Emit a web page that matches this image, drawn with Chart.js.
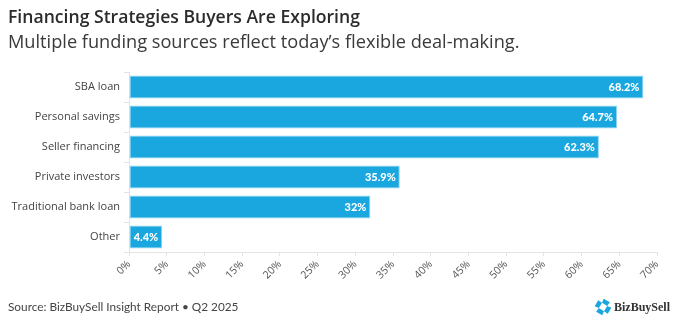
<!DOCTYPE html>
<html>
<head>
<meta charset="utf-8">
<script src="https://cdn.jsdelivr.net/npm/chart.js@4.4.1/dist/chart.umd.min.js"></script>
<style>
  html, body { margin: 0; padding: 0; background: #ffffff; }
  #wrap { position: relative; width: 676px; height: 330px; }
</style>
</head>
<body>
<div id="wrap"><canvas id="chart" width="676" height="330"></canvas></div>
<script>
// Financing sources reported by buyers (share of respondents, %)
const categories = ['SBA loan', 'Personal savings', 'Seller financing', 'Private investors', 'Traditional bank loan', 'Other'];
const shares = [68.2, 64.7, 62.3, 35.9, 32, 4.4];
const valueLabels = ['68.2%', '64.7%', '62.3%', '35.9%', '32%', '4.4%'];

const titleText = 'Financing Strategies Buyers Are Exploring';
const subtitleText = 'Multiple funding sources reflect today\u2019s flexible deal-making.';
const sourceText = 'Source: BizBuySell Insight Report \u2022 Q2 2025';
const brandText = 'BizBuySell';

const FONT = '"Open Sans", Lato, sans-serif';
const BLUE = '#1aa7df';

// Headline, subtitle, source line and brand mark
const frame = {
  id: 'frame',
  afterDraw(chart) {
    const ctx = chart.ctx;
    ctx.save();
    ctx.textBaseline = 'alphabetic';
    ctx.textAlign = 'left';
    ctx.fillStyle = '#2b2b2b';
    ctx.font = '600 17.6px ' + FONT;
    ctx.fillText(titleText, 8, 23);
    ctx.fillStyle = '#3a3a3a';
    ctx.font = '18.2px ' + FONT;
    ctx.fillText(subtitleText, 8, 48);
    ctx.fillStyle = '#444444';
    ctx.font = '11.8px Lato, sans-serif';
    ctx.fillText(sourceText, 8, 311);

    // brand icon: four tiles arranged in a ring
    const cx = 603, cy = 307;
    ctx.fillStyle = BLUE;
    for (let i = 0; i < 4; i++) {
      ctx.save();
      ctx.translate(cx, cy);
      ctx.rotate(i * Math.PI / 2 + Math.PI / 8);
      ctx.beginPath();
      ctx.moveTo(-2.5, -8);
      ctx.lineTo(4.5, -7);
      ctx.lineTo(3.5, -2.5);
      ctx.lineTo(-2.5, -3.5);
      ctx.closePath();
      ctx.fill();
      ctx.restore();
    }
    ctx.fillStyle = '#333333';
    ctx.font = 'bold 12px "Liberation Serif", "DejaVu Serif", serif';
    ctx.fillText(brandText, 614, 311);
    ctx.restore();
  }
};

// Value labels inside the end of each bar
const barValues = {
  id: 'barValues',
  afterDatasetsDraw(chart) {
    const ctx = chart.ctx;
    const meta = chart.getDatasetMeta(0);
    ctx.save();
    ctx.fillStyle = '#ffffff';
    ctx.font = '900 11px Lato, sans-serif';
    ctx.textAlign = 'right';
    ctx.textBaseline = 'middle';
    meta.data.forEach((bar, i) => {
      ctx.fillText(valueLabels[i], bar.x - 4, bar.y + 0.5);
    });
    ctx.restore();
  }
};

new Chart(document.getElementById('chart'), {
  type: 'bar',
  data: {
    labels: categories,
    datasets: [{
      data: shares,
      backgroundColor: BLUE,
      borderColor: '#8fd4f1',
      borderWidth: 1,
      borderSkipped: false,
      categoryPercentage: 1,
      barPercentage: 0.77
    }]
  },
  options: {
    indexAxis: 'y',
    responsive: false,
    animation: false,
    layout: { padding: { top: 72, right: 19, left: 0, bottom: 0 } },
    plugins: { legend: { display: false }, tooltip: { enabled: false } },
    scales: {
      x: {
        min: 0, max: 70,
        afterFit(scale) { scale.height = 78; },
        ticks: {
          stepSize: 5,
          minRotation: 45, maxRotation: 45,
          color: '#555555',
          font: { family: FONT, size: 10.5 },
          padding: 2,
          callback: v => v + '%'
        },
        grid: { drawOnChartArea: false, drawTicks: true, tickLength: 4, color: '#e4e4e4' },
        border: { color: '#e4e4e4' }
      },
      y: {
        afterFit(scale) { scale.width = 129; },
        ticks: {
          color: '#444444',
          font: { family: FONT, size: 11 },
          padding: 4
        },
        grid: { drawOnChartArea: false, drawTicks: true, tickLength: 5, color: '#e4e4e4' },
        border: { color: '#e4e4e4' }
      }
    }
  },
  plugins: [barValues, frame]
});
</script>
</body>
</html>
